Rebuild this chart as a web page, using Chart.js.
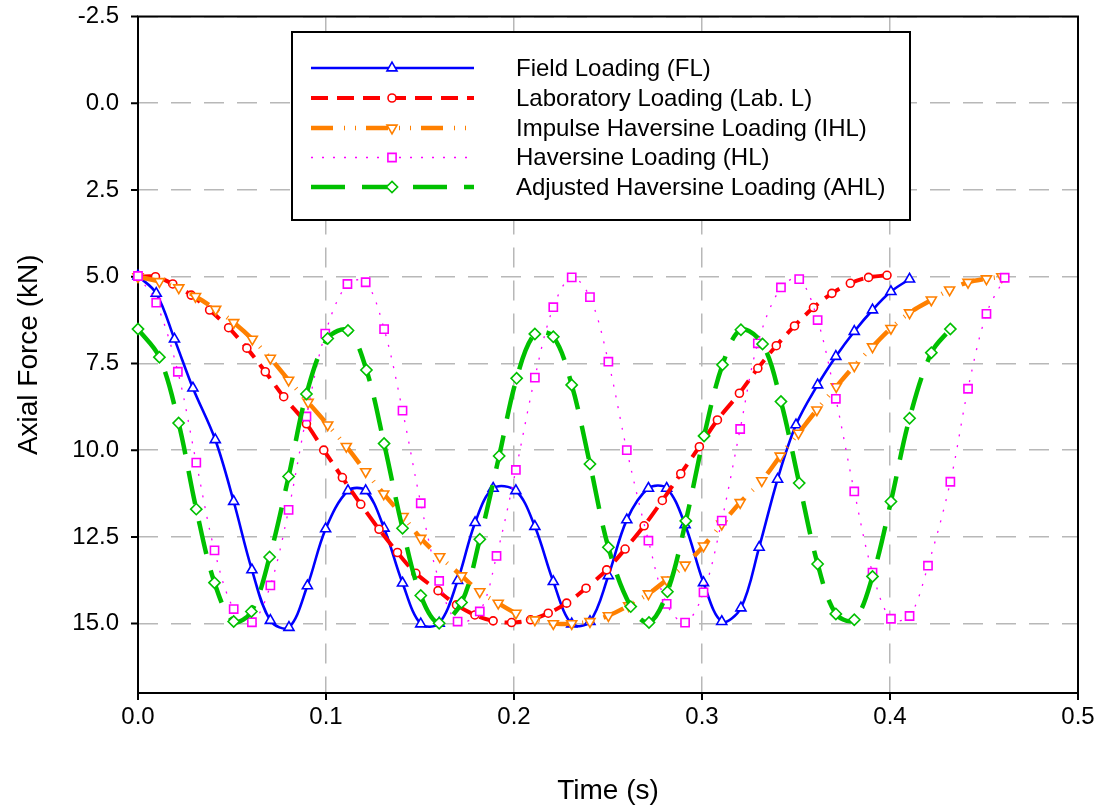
<!DOCTYPE html>
<html><head><meta charset="utf-8">
<script src="https://cdn.jsdelivr.net/npm/chart.js@4.4.0/dist/chart.umd.min.js"></script>
<style>html,body{margin:0;padding:0;background:#fff;}canvas{display:block;}</style>
</head><body>
<canvas id="c" width="1107" height="810"></canvas>
<script>
// ---------- data ----------
const seriesNames = ['Field Loading (FL)','Laboratory Loading (Lab. L)','Impulse Haversine Loading (IHL)','Haversine Loading (HL)','Adjusted Haversine Loading (AHL)'];
const xTickValues = [0, 0.1, 0.2, 0.3, 0.4, 0.5];
const yTickValues = [-2.5, 0, 2.5, 5, 7.5, 10, 12.5, 15];

const flTime = [0, 0.0097, 0.0194, 0.0292, 0.0411, 0.0509, 0.0606, 0.0704, 0.0803, 0.0901, 0.0998, 0.1117, 0.1211, 0.1309, 0.1407, 0.1504, 0.1602, 0.1700, 0.1793, 0.1889, 0.2010, 0.2111, 0.2209, 0.2307, 0.2404, 0.2502, 0.2600, 0.2715, 0.2812, 0.2910, 0.3008, 0.3105, 0.3207, 0.3304, 0.3402, 0.3500, 0.3615, 0.3712, 0.3810, 0.3907, 0.4005, 0.4104];
const flForce = [4.98, 5.48, 6.80, 8.21, 9.70, 11.48, 13.45, 14.91, 15.11, 13.91, 12.27, 11.17, 11.17, 12.25, 13.83, 15.01, 14.99, 13.76, 12.09, 11.10, 11.17, 12.20, 13.79, 15.01, 14.94, 13.62, 12.01, 11.10, 11.10, 12.15, 13.82, 14.94, 14.55, 12.80, 10.84, 9.27, 8.12, 7.30, 6.58, 5.96, 5.43, 5.07];

const labTime = [0, 0.0093, 0.0185, 0.0283, 0.0381, 0.0482, 0.0579, 0.0677, 0.0775, 0.0896, 0.0988, 0.1087, 0.1185, 0.1282, 0.1380, 0.1478, 0.1596, 0.1694, 0.1792, 0.1889, 0.1987, 0.2088, 0.2182, 0.2280, 0.2383, 0.2493, 0.2591, 0.2692, 0.2789, 0.2887, 0.2986, 0.3082, 0.3199, 0.3297, 0.3395, 0.3492, 0.3593, 0.3691, 0.3789, 0.3886, 0.3984];
const labForce = [5.0, 5.0, 5.21, 5.53, 5.96, 6.47, 7.06, 7.74, 8.46, 9.24, 10.0, 10.79, 11.56, 12.28, 12.95, 13.55, 14.05, 14.46, 14.75, 14.92, 14.97, 14.89, 14.70, 14.41, 13.98, 13.45, 12.85, 12.18, 11.45, 10.68, 9.90, 9.13, 8.36, 7.64, 6.99, 6.42, 5.89, 5.48, 5.19, 5.02, 4.96];

const ihlTime = [0, 0.0114, 0.0217, 0.0306, 0.0413, 0.0509, 0.0608, 0.0704, 0.0801, 0.0905, 0.1009, 0.1108, 0.1211, 0.1307, 0.1410, 0.1504, 0.1605, 0.1721, 0.1818, 0.1916, 0.2010, 0.2111, 0.2209, 0.2307, 0.2404, 0.2502, 0.2610, 0.2715, 0.2812, 0.2910, 0.3008, 0.3105, 0.3203, 0.3318, 0.3416, 0.3513, 0.3611, 0.3714, 0.3810, 0.3907, 0.4005, 0.4104, 0.4220, 0.4317, 0.4415, 0.4513, 0.4595];
const ihlForce = [5.0, 5.14, 5.32, 5.57, 5.94, 6.32, 6.80, 7.35, 7.98, 8.62, 9.27, 9.89, 10.62, 11.26, 11.91, 12.54, 13.07, 13.62, 14.08, 14.41, 14.70, 14.89, 15.0, 15.0, 14.94, 14.77, 14.48, 14.14, 13.74, 13.31, 12.76, 12.13, 11.51, 10.88, 10.17, 9.51, 8.84, 8.17, 7.57, 7.02, 6.49, 6.04, 5.67, 5.38, 5.16, 5.06, 5.0];

const hlTime = [0, 0.0097, 0.0212, 0.0310, 0.0407, 0.0509, 0.0606, 0.0704, 0.0801, 0.0896, 0.0996, 0.1114, 0.1211, 0.1309, 0.1407, 0.1504, 0.1602, 0.1700, 0.1818, 0.1907, 0.2010, 0.2111, 0.2209, 0.2307, 0.2404, 0.2502, 0.2600, 0.2715, 0.2812, 0.2910, 0.3008, 0.3105, 0.3203, 0.3297, 0.3420, 0.3517, 0.3615, 0.3712, 0.3810, 0.3907, 0.4005, 0.4104, 0.4202, 0.4321, 0.4415, 0.4513, 0.4610];
const hlForce = [4.98, 5.75, 7.74, 10.36, 12.89, 14.58, 14.96, 13.90, 11.72, 9.03, 6.64, 5.21, 5.16, 6.51, 8.86, 11.53, 13.77, 14.94, 14.65, 13.05, 10.57, 7.91, 5.88, 5.02, 5.59, 7.45, 10.0, 12.61, 14.43, 14.97, 14.10, 12.03, 9.39, 6.92, 5.31, 5.07, 6.25, 8.52, 11.19, 13.53, 14.86, 14.78, 13.33, 10.91, 8.23, 6.07, 5.03];

const ahlTime = [0, 0.0114, 0.0216, 0.0310, 0.0407, 0.0509, 0.0603, 0.0700, 0.0801, 0.0896, 0.1009, 0.1117, 0.1215, 0.1309, 0.1407, 0.1504, 0.1602, 0.1721, 0.1818, 0.1921, 0.2014, 0.2111, 0.2209, 0.2307, 0.2404, 0.2502, 0.2621, 0.2718, 0.2816, 0.2914, 0.3011, 0.3109, 0.3207, 0.3322, 0.3420, 0.3517, 0.3615, 0.3712, 0.3810, 0.3907, 0.4005, 0.4104, 0.4220, 0.4321];
const ahlForce = [6.51, 7.32, 9.22, 11.70, 13.82, 14.94, 14.65, 13.08, 10.76, 8.38, 6.78, 6.55, 7.69, 9.81, 12.25, 14.19, 14.99, 14.39, 12.57, 10.17, 7.93, 6.65, 6.73, 8.12, 10.40, 12.80, 14.51, 14.97, 14.08, 12.04, 9.59, 7.54, 6.53, 6.94, 8.60, 10.95, 13.28, 14.72, 14.89, 13.64, 11.48, 9.08, 7.19, 6.51];

// ---------- build ----------
const pts = (t, f) => t.map((v, i) => ({x: v, y: f[i]}));
const FONT = "'Liberation Sans', Arial, Helvetica, sans-serif";

const styles = [
  {color:'#0000ff', width:2.6, dash:[], point:'triangle', r:5.8, rot:0},
  {color:'#ff0000', width:4, dash:[17,9], point:'circle', r:4, rot:0},
  {color:'#ff8000', width:4.5, dash:[22,11,1,10,1,10], point:'triangle', r:5.8, rot:180},
  {color:'#ff00ff', width:1.3, dash:[2,9], point:'rect', r:5.8, rot:0},
  {color:'#00c000', width:4.5, dash:[34,17], point:'rectRot', r:5.6, rot:0}
];
const sets = [pts(flTime, flForce), pts(labTime, labForce), pts(ihlTime, ihlForce), pts(hlTime, hlForce), pts(ahlTime, ahlForce)];

const datasets = sets.map((d, i) => ({
  label: seriesNames[i],
  data: d,
  showLine: true,
  borderColor: styles[i].color,
  borderWidth: styles[i].width,
  borderDash: styles[i].dash,
  tension: 0.35,
  pointStyle: styles[i].point,
  pointRadius: styles[i].r,
  pointRotation: styles[i].rot,
  pointBorderColor: styles[i].color,
  pointBackgroundColor: '#ffffff',
  pointBorderWidth: 1.6,
  clip: false,
  order: 5 - i
}));

function drawMarker(ctx, style, r, x, y, rot) {
  ctx.beginPath();
  if (style === 'circle') { ctx.arc(x, y, r, 0, Math.PI * 2); }
  else if (style === 'triangle') {
    let a = (rot || 0) * Math.PI / 180;
    for (let i = 0; i < 3; i++) {
      const px = x + Math.sin(a) * r, py = y - Math.cos(a) * r;
      if (i) ctx.lineTo(px, py); else ctx.moveTo(px, py);
      a += 2 * Math.PI / 3;
    }
    ctx.closePath();
  } else if (style === 'rect') {
    const s = Math.SQRT1_2 * r; ctx.rect(x - s, y - s, 2 * s, 2 * s);
  } else {
    ctx.moveTo(x, y - r); ctx.lineTo(x + r, y); ctx.lineTo(x, y + r); ctx.lineTo(x - r, y); ctx.closePath();
  }
  ctx.fill(); ctx.stroke();
}

const bgPlugin = {
  id: 'bg',
  beforeDraw(chart) {
    const c = chart.ctx; c.save(); c.fillStyle = '#fff'; c.fillRect(0, 0, chart.width, chart.height); c.restore();
  }
};

const framePlugin = {
  id: 'frame',
  beforeDatasetsDraw(chart) {
    const {ctx, chartArea: a, scales: {x, y}} = chart;
    ctx.save();
    ctx.setLineDash([]);
    ctx.strokeStyle = '#000';
    ctx.lineWidth = 2;
    ctx.strokeRect(a.left, a.top, a.right - a.left, a.bottom - a.top);
    ctx.beginPath();
    y.ticks.forEach(t => { const py = y.getPixelForValue(t.value); ctx.moveTo(a.left - 7, py); ctx.lineTo(a.left, py); });
    x.ticks.forEach(t => { const px = x.getPixelForValue(t.value); ctx.moveTo(px, a.bottom); ctx.lineTo(px, a.bottom + 7); });
    ctx.stroke();
    ctx.restore();
  }
};

const legendPlugin = {
  id: 'customLegend',
  afterDraw(chart) {
    const ctx = chart.ctx;
    const bx = 292, by = 32, bw = 618, bh = 188;
    ctx.save();
    ctx.fillStyle = '#fff';
    ctx.fillRect(bx, by, bw, bh);
    ctx.setLineDash([]);
    ctx.lineWidth = 2;
    ctx.strokeStyle = '#000';
    ctx.strokeRect(bx, by, bw, bh);
    const rows = [68, 98, 128, 157.5, 187];
    chart.data.datasets.forEach((ds, i) => {
      const yy = rows[i];
      ctx.save();
      ctx.strokeStyle = ds.borderColor;
      ctx.lineWidth = ds.borderWidth;
      ctx.setLineDash(ds.borderDash);
      ctx.beginPath(); ctx.moveTo(311, yy); ctx.lineTo(474, yy); ctx.stroke();
      ctx.setLineDash([]);
      ctx.fillStyle = '#fff';
      ctx.lineWidth = 1.6;
      drawMarker(ctx, ds.pointStyle, ds.pointRadius, 392, yy, ds.pointRotation);
      ctx.restore();
      ctx.fillStyle = '#000';
      ctx.font = '24px ' + FONT;
      ctx.textBaseline = 'middle';
      ctx.textAlign = 'left';
      ctx.fillText(ds.label, 516, yy + 1);
    });
    ctx.restore();
  }
};

new Chart(document.getElementById('c'), {
  type: 'scatter',
  data: {datasets},
  options: {
    responsive: false,
    animation: false,
    devicePixelRatio: 1,
    events: [],
    layout: {padding: {top: 16.5, right: 29, left: 0, bottom: 0}},
    plugins: {legend: {display: false}, tooltip: {enabled: false}},
    scales: {
      x: {
        type: 'linear', min: 0, max: 0.5,
        afterFit(s) { s.height = 117; s.paddingLeft = 0; s.paddingRight = 0; },
        afterBuildTicks(s) { s.ticks = xTickValues.map(v => ({value: v})); },
        grid: {color: '#b8b8b8', lineWidth: 1.5, drawTicks: false},
        border: {display: false, dash: [20, 13]},
        ticks: {color: '#000', font: {family: FONT, size: 24}, padding: 10, maxRotation: 0, callback: v => Number(v).toFixed(1)},
        title: {display: true, text: 'Time (s)', color: '#000', font: {family: FONT, size: 28}, padding: {top: 0, bottom: 2}}
      },
      y: {
        type: 'linear', min: -2.5, max: 17, reverse: true,
        afterFit(s) { s.width = 138; s.paddingTop = 0; s.paddingBottom = 0; },
        afterBuildTicks(s) { s.ticks = yTickValues.map(v => ({value: v})); },
        grid: {color: '#b8b8b8', lineWidth: 1.5, drawTicks: false},
        border: {display: false, dash: [20, 13]},
        ticks: {color: '#000', font: {family: FONT, size: 24}, padding: 19, callback: v => Number(v).toFixed(1)},
        title: {display: true, text: 'Axial Force (kN)', color: '#000', font: {family: FONT, size: 28}, padding: {top: 12, bottom: 0}}
      }
    }
  },
  plugins: [bgPlugin, framePlugin, legendPlugin]
});
</script>
</body></html>
